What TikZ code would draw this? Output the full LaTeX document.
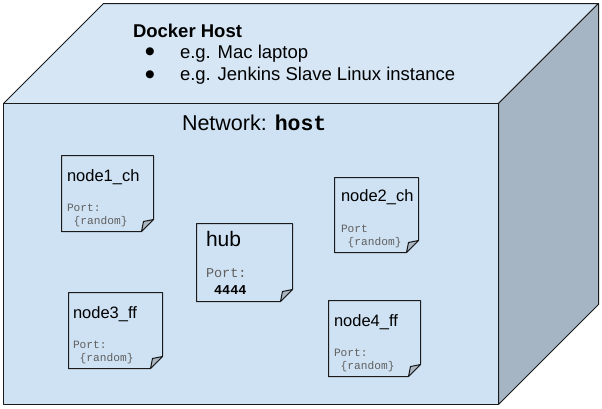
\documentclass[tikz,border=0pt]{standalone}
\usepackage{fontspec}
\setmainfont{Liberation Sans}
\newfontfamily\monofam{Liberation Mono}
\newfontfamily\symfam{DejaVu Sans}
\definecolor{frontc}{RGB}{207,226,243}
\definecolor{topc}{RGB}{214,230,245}
\definecolor{sidec}{RGB}{166,181,196}
\definecolor{foldc}{RGB}{170,182,194}
\definecolor{edgec}{RGB}{26,26,26}
\definecolor{portc}{RGB}{95,95,95}
\begin{document}
\begin{tikzpicture}[x=1pt,y=-1pt,line join=round]
\tikzset{
  face/.style={draw=edgec,line width=1pt},
  notebox/.style={anchor=north west,inner sep=0pt,outer sep=0pt},
  txt/.style={anchor=base west,inner sep=0pt,outer sep=0pt},
  hosttitle/.style={txt,font=\fontsize{18.5}{22}\selectfont\bfseries},
  hosttext/.style={txt,font=\fontsize{18.5}{22}\selectfont},
  bulletmark/.style={anchor=center,inner sep=0pt,outer sep=0pt,font=\symfam\fontsize{10.5}{12}\selectfont},
  nettitle/.style={txt,font=\fontsize{21.5}{26}\selectfont},
  notetitle/.style={txt,font=\fontsize{16.5}{20}\selectfont},
  hubtitle/.style={txt,font=\fontsize{21}{25}\selectfont},
  porttext/.style={txt,text=portc,font=\monofam\fontsize{11.2}{13}\selectfont},
  hubport/.style={txt,text=portc,font=\monofam\fontsize{13.5}{16}\selectfont},
  hubnum/.style={txt,font=\monofam\bfseries\fontsize{13.5}{16}\selectfont},
}
\useasboundingbox (0,0) rectangle (602,408);
% cube faces
\path[face,fill=topc] (3.5,103.5) -- (103.5,3.5) -- (598.5,3.5) -- (498.5,103.5) -- cycle;
\path[face,fill=sidec] (498.5,103.5) -- (598.5,3.5) -- (598.5,304.5) -- (498.5,404.5) -- cycle;
\path[face,fill=frontc] (3.5,103.5) rectangle (498.5,404.5);
% host texts
\node[hosttitle] (dh) at (133,37) {Docker Host};
\node[bulletmark] (b1) at (150,52) {●};
\node[hosttext] (l1) at (180,58) {e.g. Mac laptop};
\node[bulletmark] (b2) at (150,74.5) {●};
\node[hosttext] (l2) at (180,80) {e.g. Jenkins Slave Linux instance};
\node[nettitle] (net) at (182,130) {Network: {\monofam\bfseries host}};
% note boxes
\node[notebox,minimum width=92pt,minimum height=76pt] (n1) at (61.5,155.5) {};
\node[notebox,minimum width=84pt,minimum height=75pt] (n2) at (334.5,177.5) {};
\node[notebox,minimum width=94pt,minimum height=76pt] (n3) at (68.5,292.5) {};
\node[notebox,minimum width=92pt,minimum height=76pt] (n4) at (328.5,300.5) {};
\node[notebox,minimum width=96pt,minimum height=78pt] (hub) at (196.5,223.5) {};
\foreach \n in {n1,n2,n3,n4,hub}{
  \path[face,fill=frontc] (\n.north west) -- (\n.north east) -- ([yshift=12pt]\n.south east)
     -- ([xshift=-12pt]\n.south east) -- (\n.south west) -- cycle;
  \path[face,fill=foldc] ([yshift=12pt]\n.south east) -- ([xshift=-10pt,yshift=10pt]\n.south east)
     .. controls ([xshift=-11pt,yshift=5pt]\n.south east) .. ([xshift=-12pt]\n.south east) -- cycle;
}
% note texts
\node[notetitle] (n1t) at (67,181) {node1\_ch};
\node[porttext] (n1p) at (67,211) {Port:};
\node[porttext] (n1r) at (67,224) {\hphantom{P}\{random\}};
\node[notetitle] (n2t) at (341,201.5) {node2\_ch};
\node[porttext] (n2p) at (341,232) {Port};
\node[porttext] (n2r) at (341,245) {\hphantom{P}\{random\}};
\node[notetitle] (n3t) at (73,318) {node3\_ff};
\node[porttext] (n3p) at (73,348) {Port:};
\node[porttext] (n3r) at (73,361) {\hphantom{P}\{random\}};
\node[notetitle] (n4t) at (334,326) {node4\_ff};
\node[porttext] (n4p) at (334,356) {Port:};
\node[porttext] (n4r) at (334,369) {\hphantom{P}\{random\}};
\node[hubtitle] (hubt) at (206,246) {hub};
\node[hubport] (hubp) at (206,277) {Port:};
\node[hubnum] (hubn) at (206,294) {\hphantom{P}4444};
\end{tikzpicture}
\end{document}
